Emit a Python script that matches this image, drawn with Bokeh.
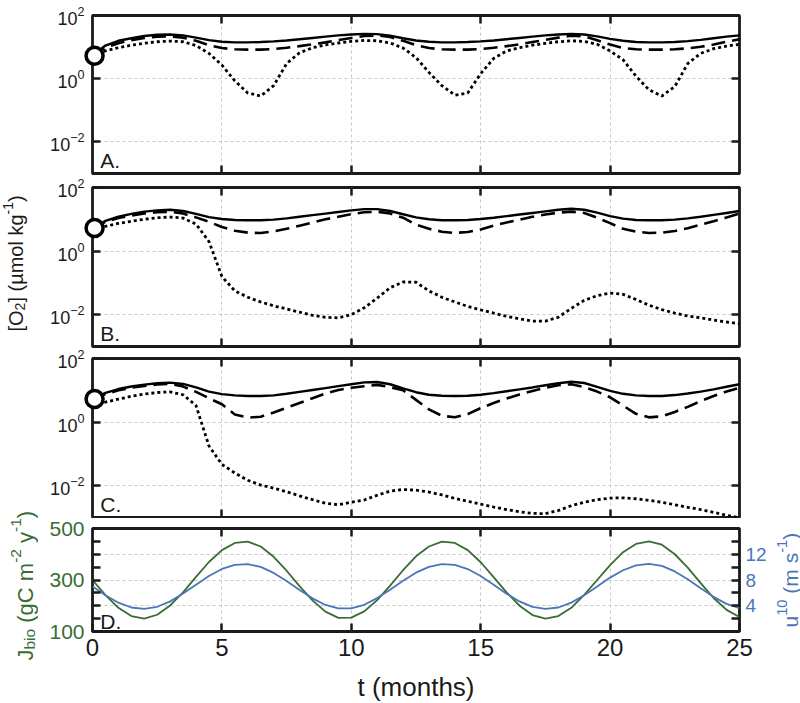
import math
import numpy as np
from bokeh.plotting import figure
from bokeh.models import (Range1d, LogAxis, LinearAxis, FixedTicker, CustomJSTickFormatter)
from bokeh.layouts import row, column
from bokeh.core.properties import value
from bokeh.embed import file_html
from bokeh.resources import INLINE

# ---------------- data ----------------
t_months = list(np.arange(0, 25.01, 0.5))

# log10 of [O2] (umol/kg) at t = 0, 0.5, ..., 25
a_solid_log = [0.73, 1.05, 1.20, 1.28, 1.35, 1.39, 1.40,
               1.37, 1.30, 1.22, 1.17, 1.15, 1.15, 1.16,
               1.18, 1.21, 1.25, 1.29, 1.33, 1.37, 1.40,
               1.42, 1.41, 1.36, 1.28, 1.21, 1.17, 1.15,
               1.15, 1.16, 1.18, 1.21, 1.25, 1.29, 1.33,
               1.37, 1.40, 1.42, 1.40, 1.34, 1.26, 1.20,
               1.16, 1.15, 1.15, 1.16, 1.19, 1.23, 1.28,
               1.33, 1.37]
a_dashed_log = [0.73, 0.98, 1.12, 1.22, 1.29, 1.33, 1.34,
                1.30, 1.20, 1.06, 0.97, 0.93, 0.92, 0.92,
                0.94, 0.98, 1.03, 1.09, 1.15, 1.22, 1.29,
                1.35, 1.37, 1.32, 1.20, 1.06, 0.97, 0.93,
                0.92, 0.92, 0.94, 0.98, 1.03, 1.09, 1.16,
                1.23, 1.30, 1.36, 1.34, 1.22, 1.08, 0.97,
                0.93, 0.92, 0.92, 0.93, 0.96, 1.01, 1.08,
                1.17, 1.25]
a_dotted_log = [0.73, 0.88, 0.98, 1.06, 1.12, 1.17, 1.19,
                1.17, 1.05, 0.80, 0.43, -0.07, -0.45, -0.55,
                -0.22, 0.48, 0.82, 0.98, 1.07, 1.13, 1.18,
                1.21, 1.20, 1.13, 0.97, 0.67, 0.20, -0.22,
                -0.52, -0.45, 0.16, 0.64, 0.88, 0.98, 1.06,
                1.12, 1.17, 1.20, 1.18, 1.09, 0.88, 0.60,
                0.08, -0.35, -0.55, -0.25, 0.48, 0.80, 0.95,
                1.03, 1.09]

b_solid_log = [0.71, 0.95, 1.08, 1.17, 1.24, 1.28, 1.30,
               1.26, 1.17, 1.07, 1.01, 0.98, 0.97, 0.97,
               0.99, 1.03, 1.08, 1.13, 1.18, 1.23, 1.28,
               1.32, 1.32, 1.26, 1.16, 1.06, 1.00, 0.97,
               0.97, 0.98, 1.01, 1.05, 1.10, 1.15, 1.20,
               1.25, 1.30, 1.33, 1.30, 1.21, 1.10, 1.02,
               0.98, 0.97, 0.97, 0.99, 1.03, 1.08, 1.14,
               1.20, 1.26]
b_dashed_log = [0.71, 0.92, 1.04, 1.12, 1.18, 1.22, 1.24,
                1.18, 1.06, 0.92, 0.76, 0.64, 0.58, 0.57,
                0.62, 0.70, 0.80, 0.90, 1.00, 1.08, 1.16,
                1.22, 1.24, 1.18, 1.05, 0.83, 0.70, 0.61,
                0.57, 0.60, 0.68, 0.80, 0.90, 0.99, 1.08,
                1.15, 1.21, 1.24, 1.20, 1.05, 0.88, 0.70,
                0.61, 0.57, 0.58, 0.63, 0.72, 0.83, 0.94,
                1.06, 1.18]
b_dotted_log = [0.71, 0.78, 0.87, 0.94, 1.00, 1.05, 1.07,
                1.04, 0.85, 0.30, -0.80, -1.25, -1.45, -1.60,
                -1.72, -1.82, -1.92, -2.02, -2.08, -2.10, -2.00,
                -1.78, -1.48, -1.15, -0.97, -0.98, -1.25, -1.45,
                -1.60, -1.74, -1.85, -1.95, -2.05, -2.13, -2.20,
                -2.20, -2.08, -1.80, -1.55, -1.40, -1.32, -1.36,
                -1.52, -1.70, -1.84, -1.95, -2.04, -2.10, -2.17,
                -2.23, -2.28]

c_solid_log = [0.71, 0.92, 1.04, 1.12, 1.18, 1.22, 1.24,
               1.20, 1.09, 0.96, 0.88, 0.84, 0.82, 0.82,
               0.84, 0.89, 0.95, 1.01, 1.07, 1.13, 1.19,
               1.25, 1.26, 1.19, 1.06, 0.94, 0.86, 0.83,
               0.82, 0.83, 0.86, 0.91, 0.97, 1.03, 1.09,
               1.16, 1.22, 1.27, 1.23, 1.11, 0.98, 0.89,
               0.84, 0.82, 0.82, 0.85, 0.90, 0.96, 1.03,
               1.11, 1.19]
c_dashed_log = [0.71, 0.88, 1.00, 1.08, 1.14, 1.18, 1.20,
                1.12, 0.95, 0.75, 0.56, 0.24, 0.14, 0.17,
                0.30, 0.45, 0.60, 0.75, 0.90, 1.01, 1.08,
                1.13, 1.17, 1.10, 1.00, 0.70, 0.40, 0.20,
                0.15, 0.25, 0.44, 0.60, 0.74, 0.87, 0.98,
                1.08, 1.16, 1.19, 1.10, 0.96, 0.78, 0.52,
                0.26, 0.15, 0.18, 0.32, 0.48, 0.66, 0.82,
                0.96, 1.08]
c_dotted_log = [0.55, 0.63, 0.72, 0.81, 0.88, 0.93, 0.95,
                0.86, 0.52, -0.75, -1.33, -1.60, -1.83, -1.98,
                -2.08, -2.19, -2.32, -2.44, -2.55, -2.60, -2.52,
                -2.45, -2.30, -2.17, -2.12, -2.14, -2.20, -2.29,
                -2.40, -2.49, -2.58, -2.67, -2.75, -2.82, -2.87,
                -2.88, -2.78, -2.63, -2.52, -2.44, -2.39, -2.38,
                -2.41, -2.46, -2.52, -2.60, -2.68, -2.75, -2.84,
                -2.93, -3.01]

o2_initial = [5.3]
t_initial = [0.08]

# panel D: biological flux (gC m-2 y-1) and wind speed (m s-1)
j_bio = [300, 241, 192, 160, 150, 165, 201, 252, 312, 370, 416, 444, 449,
         430, 390, 336, 276, 221, 177, 153, 154, 178, 222, 278, 338, 392,
         430, 449, 444, 416, 369, 311, 252, 200, 164, 150, 160, 192, 242,
         300, 358, 408, 440, 450, 437, 400, 348, 288, 230, 184, 156]
u_10 = [7.00, 5.63, 4.48, 3.73, 3.50, 3.84, 4.68, 5.89, 7.28, 8.63, 9.72,
        10.36, 10.47, 10.03, 9.10, 7.83, 6.44, 5.15, 4.12, 3.58, 3.58, 4.15,
        5.19, 6.49, 7.88, 9.14, 10.03, 10.47, 10.35, 9.70, 8.61, 7.26, 5.87,
        4.67, 3.82, 3.50, 3.73, 4.49, 5.64, 7.00, 8.37, 9.51, 10.27, 10.50,
        10.19, 9.33, 8.12, 6.73, 5.38, 4.29, 3.64]

x_ticks = [5, 10, 15, 20]
x_tick_labels_d = [0, 5, 10, 15, 20, 25]
log_ticks = [1e-2, 1, 1e2]
j_ticks = [100, 150, 200, 250, 300, 350, 400, 450, 500]
u_ticks = [2, 4, 6, 8, 10, 12, 14]
panel_letters = ["A.", "B.", "C.", "D."]
x_title = "t (months)"
NB = "\u00a0"
o2_title = [("[O", "n"), ("2", "sub"), ("]" + NB + "(µmol" + NB + "kg", "n"),
            ("-1", "sup"), (")", "n")]
jbio_title = [("J", "n"), ("bio", "sub"), (NB + "(gC" + NB + "m", "n"), ("-2", "sup"),
              (NB + "y", "n"), ("-1", "sup"), (")", "n")]
u10_title = [("u", "n"), ("10", "sup"), (NB + "(m" + NB + "s", "n"), ("-1", "sup"),
             (")", "n")]

# ---------------- styling ----------------
FONT = "Liberation Sans"
INK = "#1a1a1a"
GREEN = "#3b6c36"
BLUE = "#4a76b8"
FW = 647
BL, BR = 54, 30
LEFT_W = 38
RIGHT_W = 800 - LEFT_W - BL - FW - BR
H_A, H_B, H_C, H_D = 176, 173, 169, 183
TOTAL_H = H_A + H_B + H_C + H_D

# Arial / Liberation Sans advance widths (per 1000 em)
ADV = {" ": 278, NB: 278, "(": 333, ")": 333, "[": 278, "]": 278, "-": 333, "J": 500,
       "O": 778, "C": 722, "b": 556, "i": 222, "o": 556, "g": 556, "m": 833,
       "l": 222, "k": 500, "y": 500, "u": 556, "s": 500, "µ": 576}
for d in "0123456789":
    ADV[d] = 556


def text_w(s, fs):
    return sum(ADV.get(c, 556) for c in s) * fs / 1000.0


def style_axis(ax, show=True, size="18px", color=INK):
    ax.axis_line_color = None
    ax.major_tick_in = 8
    ax.major_tick_out = 0
    ax.major_tick_line_width = 2.5
    ax.major_tick_line_color = INK
    ax.minor_tick_line_color = None
    ax.major_label_text_font = FONT
    ax.major_label_text_color = color
    if show:
        ax.major_label_text_font_size = size
    else:
        ax.formatter = CustomJSTickFormatter(code="return '';")
        ax.major_label_text_font_size = "1px"
        ax.major_label_standoff = 0


def base_style(p):
    p.outline_line_color = INK
    p.outline_line_width = 2.8
    p.outline_line_alpha = 1
    p.background_fill_color = "white"
    p.border_fill_color = "white"
    p.xgrid.ticker = FixedTicker(ticks=x_ticks)
    for g in (p.xgrid[0], p.ygrid[0]):
        g.grid_line_color = "#c8c8c8"
        g.grid_line_dash = "3 3"
        g.grid_line_width = 1


def log_panel(solid, dashed, dotted, letter, top, bottom, fh):
    p = figure(frame_width=FW, frame_height=fh, x_range=Range1d(0, 25),
               y_range=Range1d(1e-3, 1e2), y_axis_type="log",
               toolbar_location=None, output_backend="svg",
               min_border_left=BL, min_border_right=BR,
               min_border_top=top, min_border_bottom=bottom)
    base_style(p)
    p.ygrid.ticker = FixedTicker(ticks=[1e-2, 1])
    yl = p.yaxis[0]
    yl.ticker = FixedTicker(ticks=log_ticks)
    style_axis(yl, True, "18px")
    yl.major_label_standoff = 8
    xb = p.xaxis[0]
    xb.ticker = FixedTicker(ticks=x_ticks)
    style_axis(xb, False)
    yr = LogAxis(ticker=FixedTicker(ticks=log_ticks))
    style_axis(yr, False)
    p.add_layout(yr, "right")
    xt = LinearAxis(ticker=FixedTicker(ticks=x_ticks))
    style_axis(xt, False)
    p.add_layout(xt, "above")

    t = t_months
    p.line(t, [10 ** v for v in solid], line_color="black", line_width=2.4)
    p.line(t, [10 ** v for v in dashed], line_color="black", line_width=2.6,
           line_dash="14 7")
    p.line(t, [10 ** v for v in dotted], line_color="black", line_width=2.8,
           line_dash="3 3")
    p.scatter(t_initial, o2_initial, size=17, fill_color="white",
              line_color="black", line_width=3.5, level="overlay")
    p.text(x=[0.3], y=[10 ** -2.6], text=[letter], text_font=value(FONT),
           text_font_size="21px", text_baseline="alphabetic",
           text_align="left", text_color=INK, level="overlay")
    return p


pa = log_panel(a_solid_log, a_dashed_log, a_dotted_log, panel_letters[0], 15, 3, 158)
pb = log_panel(b_solid_log, b_dashed_log, b_dotted_log, panel_letters[1], 11, 3, 159)
pc = log_panel(c_solid_log, c_dashed_log, c_dotted_log, panel_letters[2], 9, 1, 159)

# ---------------- panel D ----------------
pd = figure(frame_width=FW, frame_height=103, x_range=Range1d(0, 25),
            y_range=Range1d(100, 500), toolbar_location=None, output_backend="svg",
            min_border_left=BL, min_border_right=BR, min_border_top=10,
            min_border_bottom=H_D - 10 - 103)
pd.extra_y_ranges = {"u": Range1d(0, 16)}
base_style(pd)
pd.ygrid.ticker = FixedTicker(ticks=[200, 300, 400])

yl = pd.yaxis[0]
yl.ticker = FixedTicker(ticks=j_ticks)
style_axis(yl, True, "21px", GREEN)
yl.formatter = CustomJSTickFormatter(
    code="return [100, 300, 500].includes(tick) ? tick.toFixed(0) : '';")
yl.major_label_standoff = 8

xb = pd.xaxis[0]
xb.ticker = FixedTicker(ticks=x_tick_labels_d)
style_axis(xb, True, "24px")
xb.major_label_standoff = 7

yr = LinearAxis(y_range_name="u", ticker=FixedTicker(ticks=u_ticks))
style_axis(yr, True, "19px", BLUE)
yr.formatter = CustomJSTickFormatter(
    code="return [4, 8, 12].includes(tick) ? tick.toFixed(0) : '';")
yr.major_label_standoff = 6
pd.add_layout(yr, "right")

xt = LinearAxis(ticker=FixedTicker(ticks=x_ticks))
style_axis(xt, False)
pd.add_layout(xt, "above")

pd.line(t_months, j_bio, line_color=GREEN, line_width=1.8)
pd.line(t_months, u_10, line_color=BLUE, line_width=1.8, y_range_name="u")
pd.text(x=[0.3], y=[139], text=[panel_letters[3]], text_font=value(FONT),
        text_font_size="21px", text_baseline="alphabetic", text_align="left",
        text_color=INK, level="overlay")
# x-axis title, drawn below the frame (D frame: 500 at top, 100 at bottom, 103 px)
pd.text(x=[12.5], y=[-117], text=[x_title],
        text_font=value(FONT), text_font_size="26px", text_baseline="alphabetic",
        text_align="center", text_color=INK, level="overlay")


# ---------------- side label strips (rotated titles with sub/superscripts) ----------------
def label_strip(width, x0):
    s = figure(frame_width=width, frame_height=TOTAL_H,
               x_range=Range1d(x0, x0 + width), y_range=Range1d(TOTAL_H, 0),
               toolbar_location=None, output_backend="svg",
               x_axis_location=None, y_axis_location=None,
               min_border_left=0, min_border_right=0, min_border_top=0,
               min_border_bottom=0)
    s.outline_line_color = None
    s.grid.visible = False
    s.background_fill_color = "white"
    s.border_fill_color = "white"
    return s


def rotated_title(s, pieces, x_base, y_start, color, fs, fs_small):
    y = y_start
    for txt, kind in pieces:
        if kind == "n":
            f, dx = fs, 0.0
        elif kind == "sub":
            f, dx = fs_small, 0.22 * fs
        else:
            f, dx = fs_small, -0.40 * fs
        s.text(x=[x_base + dx], y=[y], text=[txt], angle=math.pi / 2,
               text_font=value(FONT), text_font_size=f"{f}px",
               text_align="left", text_baseline="alphabetic",
               text_color=color, level="overlay")
        y -= text_w(txt, f)


left = label_strip(LEFT_W, 0)
rotated_title(left, o2_title, 15.5, 331, INK, 20, 14)
rotated_title(left, jbio_title, 24.5, 660, GREEN, 22, 15.5)

right = label_strip(RIGHT_W, LEFT_W + BL + FW + BR)
rotated_title(right, u10_title, 789.5, 627, BLUE, 21, 14.7)

layout = row(left, column(pa, pb, pc, pd, spacing=0), right, spacing=0)

with open("out.html", "w") as f:
    f.write(file_html(layout, INLINE))
